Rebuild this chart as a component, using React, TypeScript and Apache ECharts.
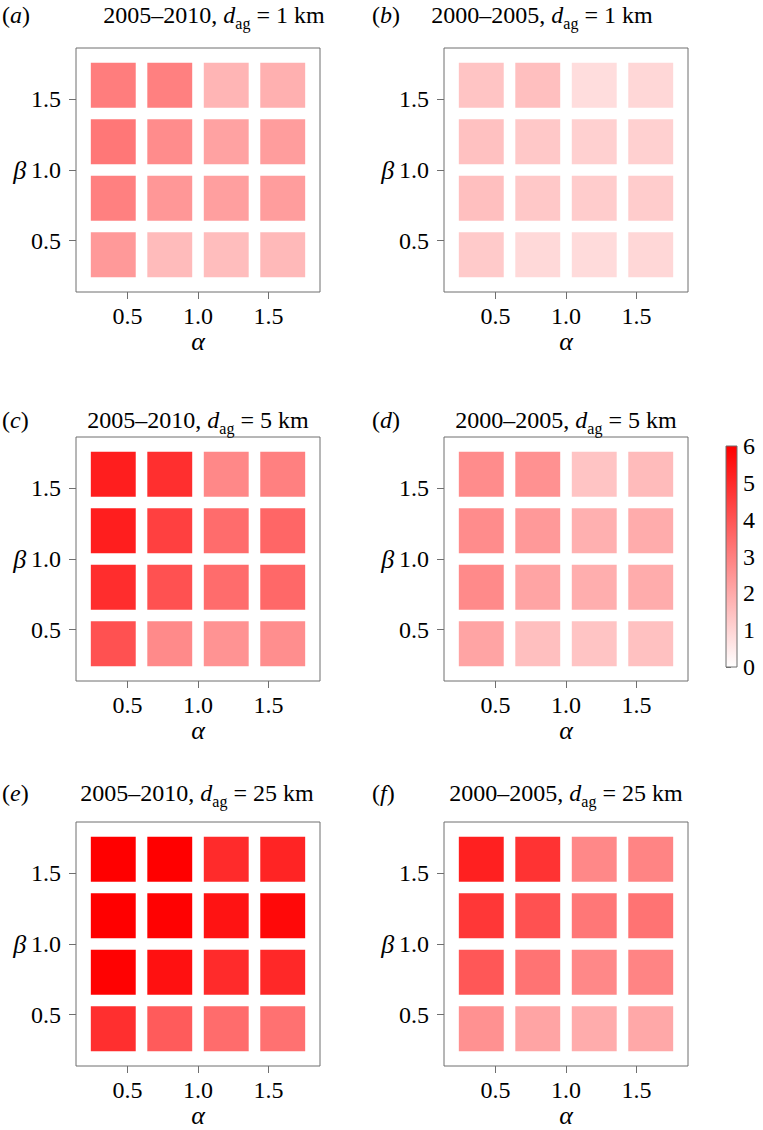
import React, { useEffect, useRef } from 'react';
import * as echarts from 'echarts';

// ---- data ----
const ALPHAS = [0.4, 0.8, 1.2, 1.6];
const BETAS_TOP_DOWN = [1.6, 1.2, 0.8, 0.4];
const AXIS_TICKS = [0.5, 1.0, 1.5];
const CBAR_MIN = 0;
const CBAR_MAX = 6;

// rows: beta = 1.6, 1.2, 0.8, 0.4 ; columns: alpha = 0.4, 0.8, 1.2, 1.6
const panelA = [
  [3.05, 3.0, 1.75, 1.85],
  [3.2, 2.7, 2.2, 2.3],
  [3.0, 2.45, 2.25, 2.3],
  [2.4, 1.6, 1.55, 1.65],
];
const panelB = [
  [1.4, 1.5, 0.8, 0.95],
  [1.45, 1.3, 1.1, 1.1],
  [1.5, 1.3, 1.2, 1.2],
  [1.25, 0.9, 0.85, 0.95],
];
const panelC = [
  [5.3, 4.9, 2.8, 3.0],
  [5.3, 4.5, 3.45, 3.6],
  [4.95, 4.1, 3.45, 3.55],
  [4.1, 2.75, 2.55, 2.65],
];
const panelD = [
  [2.7, 2.6, 1.4, 1.6],
  [2.7, 2.4, 1.85, 1.95],
  [2.75, 2.15, 1.9, 1.95],
  [2.15, 1.5, 1.4, 1.45],
];
const panelE = [
  [6.0, 6.0, 5.0, 5.15],
  [6.0, 5.95, 5.55, 5.8],
  [5.95, 5.6, 5.0, 5.05],
  [4.9, 3.85, 3.45, 3.35],
];
const panelF = [
  [5.25, 4.8, 2.8, 2.9],
  [4.7, 4.1, 3.2, 3.3],
  [3.95, 3.3, 2.8, 2.9],
  [2.6, 2.15, 1.95, 2.05],
];

const PANEL_VALUES = [panelA, panelB, panelC, panelD, panelE, panelF];
const PANEL_LETTERS = ['a', 'b', 'c', 'd', 'e', 'f'];
const PANEL_PERIODS = ['2005–2010', '2000–2005', '2005–2010', '2000–2005', '2005–2010', '2000–2005'];
const PANEL_DISTANCES = ['1', '1', '5', '5', '25', '25'];

// ---- layout / style ----
const FONT = '"Liberation Serif", "DejaVu Serif", serif';
const FS = 24;
const GRAY = '#6f6f6f';
const LOW_COLOR = '#ffffff';
const HIGH_COLOR = '#ff0000';
const AX_MIN = 0.136;
const AX_MAX = 1.864;
const HALF = 0.159;

const GRID_POS = [
  { left: 76, top: 48 },
  { left: 444, top: 48 },
  { left: 76, top: 437 },
  { left: 444, top: 437 },
  { left: 76, top: 822 },
  { left: 444, top: 822 },
];
const GRID_SIZE = 244;
const TITLE_POS = [
  { x: 214, y: 15 },
  { x: 542, y: 15 },
  { x: 198, y: 420 },
  { x: 566, y: 420 },
  { x: 197, y: 793 },
  { x: 566, y: 793 },
];
const LABEL_POS = [
  { x: 2, y: 15 },
  { x: 372, y: 15 },
  { x: 2, y: 420 },
  { x: 372, y: 420 },
  { x: 2, y: 793 },
  { x: 372, y: 793 },
];

function buildData(values: number[][]) {
  const out: number[][] = [];
  values.forEach((row, r) => {
    row.forEach((v, c) => {
      out.push([ALPHAS[c], BETAS_TOP_DOWN[r], v]);
    });
  });
  return out;
}

export default function App() {
  const ref = useRef<HTMLDivElement>(null);

  useEffect(() => {
    if (!ref.current) return;
    const chart = echarts.init(ref.current, null, { renderer: 'svg' });

    const grids: any[] = [];
    const xAxes: any[] = [];
    const yAxes: any[] = [];
    const series: any[] = [];
    const graphics: any[] = [];

    PANEL_VALUES.forEach((vals, i) => {
      grids.push({
        left: GRID_POS[i].left,
        top: GRID_POS[i].top,
        width: GRID_SIZE,
        height: GRID_SIZE,
        show: true,
        borderColor: GRAY,
        borderWidth: 1,
        backgroundColor: '#ffffff',
      });
      xAxes.push({
        gridIndex: i,
        type: 'value',
        min: AX_MIN,
        max: AX_MAX,
        axisLine: { show: false },
        splitLine: { show: false },
        axisTick: { show: true, customValues: AXIS_TICKS, length: 7, lineStyle: { color: GRAY } },
        axisLabel: {
          customValues: AXIS_TICKS,
          formatter: (v: number) => v.toFixed(1),
          margin: 12,
          fontSize: FS,
          fontFamily: FONT,
          color: '#000',
        },
        name: 'α',
        nameLocation: 'middle',
        nameGap: 33,
        nameTextStyle: { fontStyle: 'italic', fontSize: 26, fontFamily: FONT, color: '#000' },
      });
      yAxes.push({
        gridIndex: i,
        type: 'value',
        min: AX_MIN,
        max: AX_MAX,
        axisLine: { show: false },
        splitLine: { show: false },
        axisTick: { show: true, customValues: AXIS_TICKS, length: 7, lineStyle: { color: GRAY } },
        axisLabel: {
          customValues: AXIS_TICKS,
          formatter: (v: number) => v.toFixed(1),
          margin: 15,
          fontSize: FS,
          fontFamily: FONT,
          color: '#000',
        },
        name: 'β',
        nameLocation: 'middle',
        nameRotate: 0,
        nameGap: 47,
        nameTextStyle: { fontStyle: 'italic', fontSize: 26, fontFamily: FONT, color: '#000' },
      });
      series.push({
        type: 'custom',
        xAxisIndex: i,
        yAxisIndex: i,
        data: buildData(vals),
        encode: { x: 0, y: 1 },
        renderItem: (params: any, api: any) => {
          const x = api.value(0);
          const y = api.value(1);
          const p0 = api.coord([x - HALF, y + HALF]);
          const p1 = api.coord([x + HALF, y - HALF]);
          return {
            type: 'rect',
            shape: { x: p0[0], y: p0[1], width: p1[0] - p0[0], height: p1[1] - p0[1] },
            style: { fill: api.visual('color') },
          };
        },
      });

      graphics.push({
        type: 'text',
        x: TITLE_POS[i].x,
        y: TITLE_POS[i].y,
        style: {
          text: PANEL_PERIODS[i] + ', {d|d}{s|ag}{n| = ' + PANEL_DISTANCES[i] + ' km}',
          fontSize: FS,
          fontFamily: FONT,
          fill: '#000',
          lineHeight: 32,
          align: 'center',
          verticalAlign: 'middle',
          rich: {
            d: { fontSize: FS, fontFamily: FONT, fontStyle: 'italic', fill: '#000', lineHeight: 32 },
            s: { fontSize: 16, fontFamily: FONT, fill: '#000', lineHeight: 16, verticalAlign: 'bottom' },
            n: { fontSize: FS, fontFamily: FONT, fill: '#000', lineHeight: 32 },
          },
        },
      });
      graphics.push({
        type: 'text',
        x: LABEL_POS[i].x,
        y: LABEL_POS[i].y,
        style: {
          text: '({l|' + PANEL_LETTERS[i] + '})',
          fontSize: FS,
          fontFamily: FONT,
          fill: '#000',
          lineHeight: 32,
          align: 'left',
          verticalAlign: 'middle',
          rich: {
            l: { fontSize: FS, fontFamily: FONT, fontStyle: 'italic', fill: '#000', lineHeight: 32 },
          },
        },
      });
    });

    // colour bar
    grids.push({ left: 726, top: 446, width: 11, height: 221, show: false });
    xAxes.push({ gridIndex: 6, type: 'value', min: 0, max: 1, show: false });
    yAxes.push({
      gridIndex: 6,
      type: 'value',
      position: 'right',
      min: CBAR_MIN,
      max: CBAR_MAX,
      interval: 1,
      axisLine: { show: false },
      splitLine: { show: false },
      axisTick: { show: true, length: 5, lineStyle: { color: GRAY } },
      axisLabel: { margin: 6, fontSize: FS, fontFamily: FONT, color: '#000' },
    });
    series.push({
      type: 'custom',
      xAxisIndex: 6,
      yAxisIndex: 6,
      data: [[0, CBAR_MIN, CBAR_MAX]],
      encode: { x: 0, y: 1 },
      renderItem: (params: any, api: any) => {
        const p0 = api.coord([0, api.value(2)]);
        const p1 = api.coord([1, api.value(1)]);
        return {
          type: 'rect',
          shape: { x: p0[0], y: p0[1], width: p1[0] - p0[0], height: p1[1] - p0[1] },
          style: {
            fill: new echarts.graphic.LinearGradient(0, 0, 0, 1, [
              { offset: 0, color: HIGH_COLOR },
              { offset: 1, color: LOW_COLOR },
            ]),
            stroke: GRAY,
            lineWidth: 1,
          },
        };
      },
    });

    chart.setOption({
      animation: false,
      backgroundColor: '#ffffff',
      grid: grids,
      xAxis: xAxes,
      yAxis: yAxes,
      visualMap: {
        type: 'continuous',
        show: false,
        min: CBAR_MIN,
        max: CBAR_MAX,
        dimension: 2,
        seriesIndex: [0, 1, 2, 3, 4, 5],
        inRange: { color: [LOW_COLOR, HIGH_COLOR] },
      },
      series,
      graphic: graphics,
    });

    return () => chart.dispose();
  }, []);

  return (
    <div
      ref={ref}
      style={{ position: 'absolute', left: 0, top: 0, width: 763, height: 1130 }}
    />
  );
}
